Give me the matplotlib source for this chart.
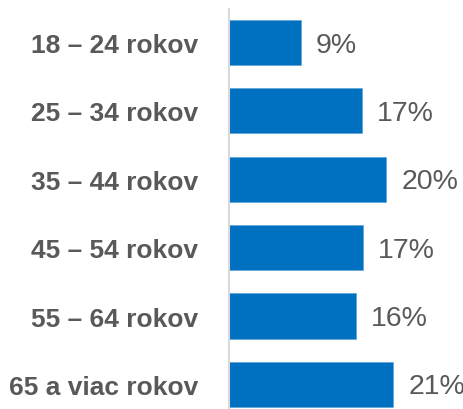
"""
Age distribution bar chart (Slovak labels).
"""

import matplotlib.pyplot as plt
from matplotlib import font_manager

categories = ["18 – 24 rokov", "25 – 34 rokov", "35 – 44 rokov",
              "45 – 54 rokov", "55 – 64 rokov", "65 a viac rokov"]
values = [9.2, 17.0, 20.1, 17.1, 16.2, 21.0]
labels = ["9%", "17%", "20%", "17%", "16%", "21%"]

names = {f.name for f in font_manager.fontManager.ttflist}
family = "Liberation Sans Narrow" if "Liberation Sans Narrow" in names else "Liberation Sans"
plt.rcParams["font.family"] = [family, "DejaVu Sans"]

gray = "#595959"

fig = plt.figure(figsize=(4.64, 4.10), dpi=100)
ax = fig.add_axes([229 / 464, 0.0, 235 / 464, 400 / 410])

pos = list(range(len(categories)))
ax.barh(pos, values, height=0.66, color="#0070C0", edgecolor="#5B9BD5", linewidth=0.4)
for p, v, t in zip(pos, values, labels):
    ax.text(v + 1.9, p + 0.03, t, va="center", ha="left", fontsize=20.5, color=gray)

ax.set_xlim(0, 30)
ax.set_ylim(5.36, -0.49)
ax.set_yticks(pos)
ax.set_yticklabels(categories, fontsize=19, fontweight="bold", color=gray)
ax.tick_params(axis="y", length=0, pad=22)
ax.set_xticks([])
for side in ["top", "right", "bottom"]:
    ax.spines[side].set_visible(False)
ax.spines["left"].set_color("#D9D9D9")
ax.spines["left"].set_linewidth(1.5)

fig.savefig("out.png", dpi=100)
